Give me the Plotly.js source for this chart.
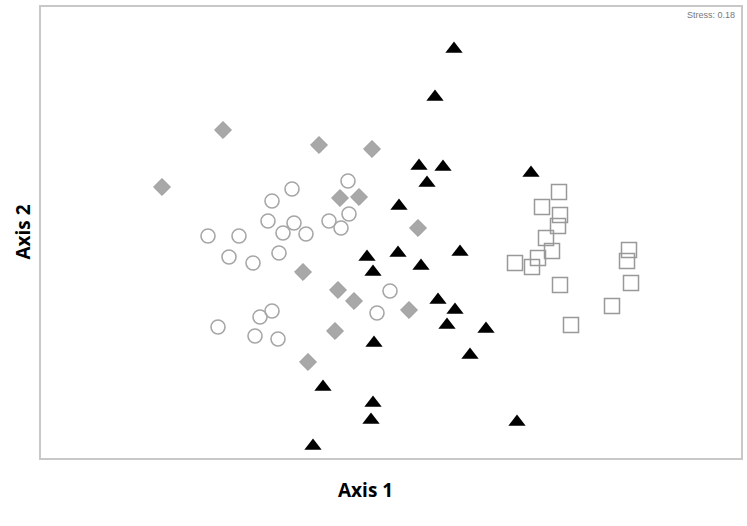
<!DOCTYPE html>
<html>
<head>
<meta charset="utf-8">
<script src="https://cdn.plot.ly/plotly-3.0.1.min.js"></script>
<style>html,body{margin:0;padding:0;background:#fff;}#chart{width:747px;height:526px;}</style>
</head>
<body>
<div id="chart"></div>
<script>
// NMDS ordination scores (Axis 1, Axis 2) by group
const diamondX = [-0.835,-0.355,-0.09,-1.14,-0.25,-0.155,0.14,-0.435,-0.26,-0.18,0.095,-0.275,-0.41];
const diamondY = [0.55,0.475,0.455,0.265,0.21,0.215,0.06,-0.16,-0.25,-0.305,-0.35,-0.455,-0.61];

const circleX = [-0.21,-0.49,-0.59,-0.205,-0.61,-0.48,-0.305,-0.245,-0.535,-0.42,-0.91,-0.755,-0.805,-0.685,-0.555,0,-0.065,-0.86,-0.65,-0.59,-0.675,-0.56];
const circleY = [0.295,0.255,0.195,0.13,0.095,0.085,0.095,0.06,0.035,0.03,0.02,0.02,-0.085,-0.115,-0.065,-0.255,-0.365,-0.435,-0.385,-0.355,-0.48,-0.495];

const triangleX = [0.32,0.225,0.145,0.265,0.185,0.705,0.045,-0.115,0.04,0.35,0.155,-0.085,0.24,0.325,0.285,0.48,-0.08,0.4,-0.335,-0.085,-0.095,0.635,-0.385];
const triangleY = [0.955,0.715,0.37,0.365,0.285,0.335,0.17,-0.085,-0.065,-0.06,-0.13,-0.16,-0.3,-0.35,-0.425,-0.445,-0.515,-0.575,-0.735,-0.815,-0.9,-0.91,-1.03];

const squareX = [0.845,0.76,0.85,0.84,0.78,0.81,0.74,0.625,0.71,1.195,1.185,1.205,0.85,1.11,0.905];
const squareY = [0.24,0.165,0.125,0.07,0.01,-0.055,-0.09,-0.115,-0.135,-0.05,-0.105,-0.215,-0.225,-0.33,-0.425];

const stressLabel = 'Stress: 0.18';

const traces = [
  {x: diamondX, y: diamondY, mode: 'markers', type: 'scatter',
   marker: {symbol: 'diamond', size: 13, color: '#a8a8a8', line: {color: '#9a9a9a', width: 1}}},
  {x: circleX, y: circleY, mode: 'markers', type: 'scatter',
   marker: {symbol: 'circle-open', size: 14, color: '#a6a6a6', line: {width: 1.6}}},
  {x: squareX, y: squareY, mode: 'markers', type: 'scatter',
   marker: {symbol: 'square-open', size: 15, color: '#999999', line: {width: 1.5}}},
  {x: triangleX, y: triangleY, mode: 'markers', type: 'scatter',
   marker: {symbol: 'triangle-up', size: 15, color: '#000000', line: {width: 0}}}
];

const layout = {
  width: 747, height: 526,
  margin: {l: 41, r: 6, t: 7, b: 68},
  paper_bgcolor: '#ffffff', plot_bgcolor: '#ffffff',
  showlegend: false,
  xaxis: {range: [-1.745, 1.755], showgrid: false, zeroline: false, showticklabels: false,
          ticks: '', showline: true, mirror: true, linecolor: '#c8c8c8', linewidth: 2},
  yaxis: {range: [-1.09, 1.165], showgrid: false, zeroline: false, showticklabels: false,
          ticks: '', showline: true, mirror: true, linecolor: '#c8c8c8', linewidth: 2},
  annotations: [
    {text: stressLabel, xref: 'paper', yref: 'paper', x: 0.92, y: 0.982, xanchor: 'left', yanchor: 'middle',
     showarrow: false, font: {family: 'Liberation Sans, Arial', size: 9, color: '#777777'}},
    {text: '<b>Axis 1</b>', xref: 'paper', yref: 'paper', x: 0.464, y: -0.071, xanchor: 'center', yanchor: 'middle',
     showarrow: false, font: {family: 'Open Sans, Lato, sans-serif', size: 19, color: '#000000'}},
    {text: '<b>Axis 2</b>', xref: 'paper', yref: 'paper', x: -0.027, y: 0.5, xanchor: 'center', yanchor: 'middle',
     textangle: -90, showarrow: false, font: {family: 'Open Sans, Lato, sans-serif', size: 19, color: '#000000'}}
  ]
};

Plotly.newPlot('chart', traces, layout, {displayModeBar: false, staticPlot: true});
</script>
</body>
</html>
